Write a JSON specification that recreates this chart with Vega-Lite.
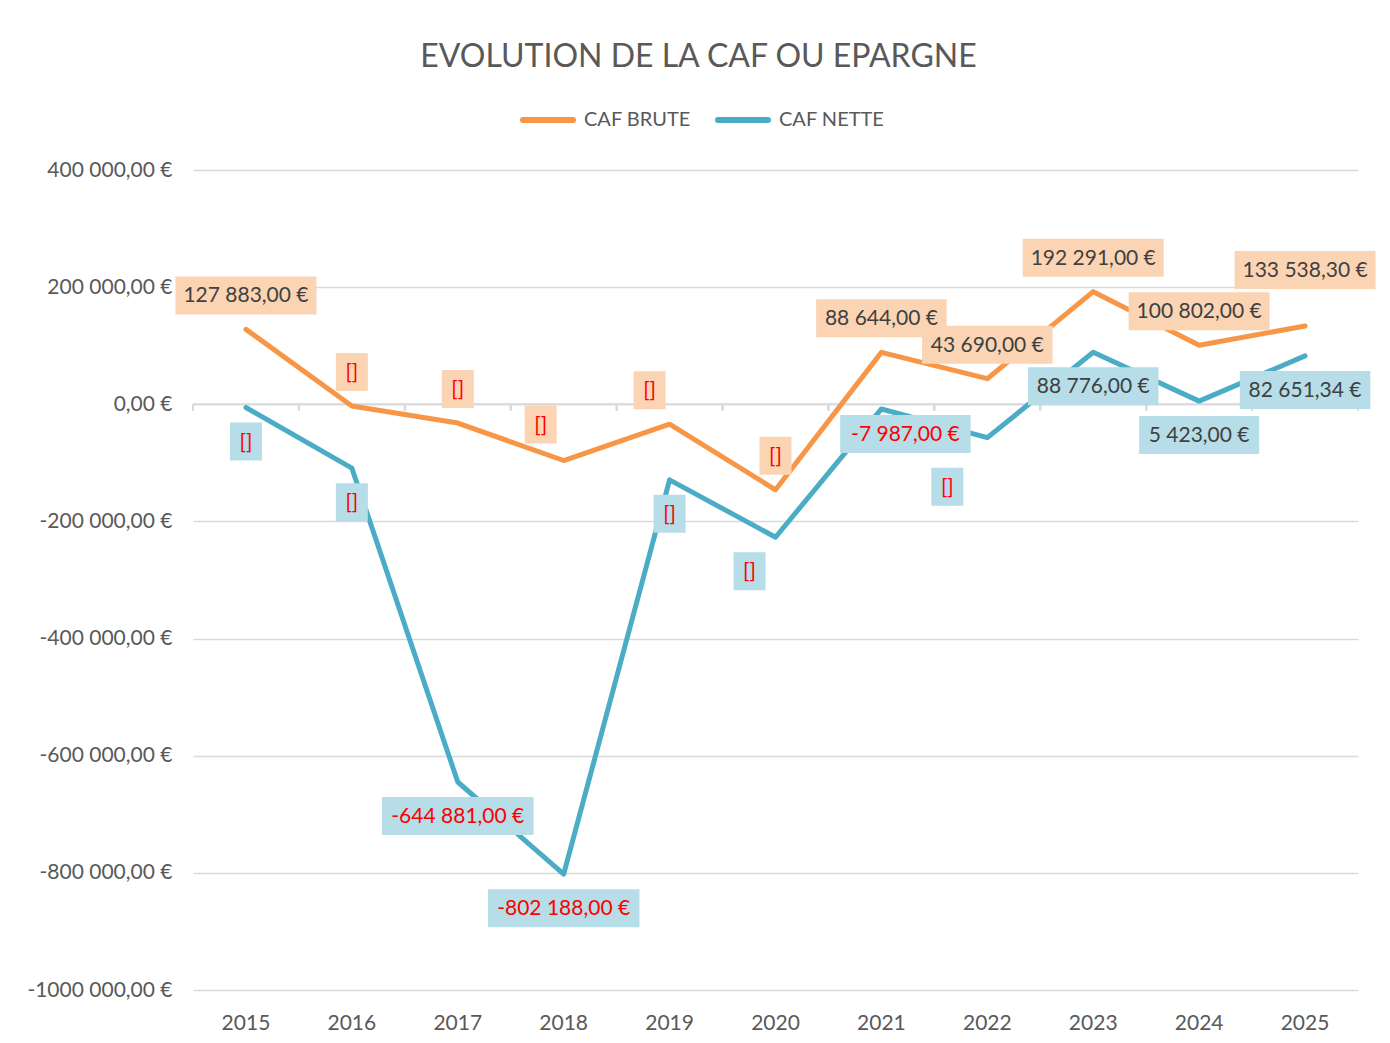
{
  "$schema": "https://vega.github.io/schema/vega-lite/v6.json",
  "width": 1165,
  "height": 820,
  "autosize": "none",
  "padding": {"left": 193, "top": 170, "right": 32, "bottom": 53},
  "background": "white",
  "config": {
    "font": "Lato",
    "view": {"stroke": null},
    "locale": {"number": {"decimal": ",", "thousands": " ", "grouping": [3], "currency": ["", " €"], "minus": "-"}}
  },
  "title": {
    "text": "EVOLUTION DE LA CAF OU EPARGNE",
    "anchor": "middle",
    "frame": "group",
    "dx": -77,
    "offset": 18,
    "fontSize": 32,
    "font": "Lato",
    "fontWeight": "normal",
    "color": "#595959"
  },
  "data": {
    "values": [
      {"year": "2015", "serie": "CAF BRUTE", "value": 127883, "label": "127 883,00 €"},
      {"year": "2016", "serie": "CAF BRUTE", "value": -3000, "label": "[]"},
      {"year": "2017", "serie": "CAF BRUTE", "value": -32000, "label": "[]"},
      {"year": "2018", "serie": "CAF BRUTE", "value": -96000, "label": "[]"},
      {"year": "2019", "serie": "CAF BRUTE", "value": -34000, "label": "[]"},
      {"year": "2020", "serie": "CAF BRUTE", "value": -146000, "label": "[]"},
      {"year": "2021", "serie": "CAF BRUTE", "value": 88644, "label": "88 644,00 €"},
      {"year": "2022", "serie": "CAF BRUTE", "value": 43690, "label": "43 690,00 €"},
      {"year": "2023", "serie": "CAF BRUTE", "value": 192291, "label": "192 291,00 €"},
      {"year": "2024", "serie": "CAF BRUTE", "value": 100802, "label": "100 802,00 €"},
      {"year": "2025", "serie": "CAF BRUTE", "value": 133538.3, "label": "133 538,30 €"},
      {"year": "2015", "serie": "CAF NETTE", "value": -5500, "label": "[]"},
      {"year": "2016", "serie": "CAF NETTE", "value": -109000, "label": "[]"},
      {"year": "2017", "serie": "CAF NETTE", "value": -644881, "label": "-644 881,00 €"},
      {"year": "2018", "serie": "CAF NETTE", "value": -802188, "label": "-802 188,00 €"},
      {"year": "2019", "serie": "CAF NETTE", "value": -129000, "label": "[]"},
      {"year": "2020", "serie": "CAF NETTE", "value": -227000, "label": "[]"},
      {"year": "2021", "serie": "CAF NETTE", "value": -7987, "label": "-7 987,00 €"},
      {"year": "2022", "serie": "CAF NETTE", "value": -57000, "label": "[]"},
      {"year": "2023", "serie": "CAF NETTE", "value": 88776, "label": "88 776,00 €"},
      {"year": "2024", "serie": "CAF NETTE", "value": 5423, "label": "5 423,00 €"},
      {"year": "2025", "serie": "CAF NETTE", "value": 82651.34, "label": "82 651,34 €"}
    ]
  },
  "layer": [
    {
      "mark": {"type": "rule", "color": "#D9D9D9", "strokeWidth": 2},
      "encoding": {
        "x": {"field": "year", "type": "ordinal", "bandPosition": 0,
          "scale": {"type": "band", "paddingInner": 0, "paddingOuter": 0},
          "axis": {"orient": "bottom", "title": null, "domain": false, "ticks": false, "labelAngle": 0, "labelPadding": 22, "labelFontSize": 21, "labelColor": "#595959", "labelFont": "Lato", "grid": false}},
        "y": {"datum": 0, "type": "quantitative",
          "scale": {"domain": [-1000000, 400000], "nice": false, "zero": false},
          "axis": {"title": null, "values": [-1000000, -800000, -600000, -400000, -200000, 0, 200000, 400000],
            "format": "$,.2f", "labelExpr": "datum.value == -1000000 ? '-1000 000,00 €' : datum.label",
            "grid": true, "gridColor": "#D9D9D9", "gridWidth": 1.5, "domain": false, "ticks": false, "tickSize": 0,
            "labelPadding": 21, "labelFontSize": 21, "labelColor": "#595959", "labelFont": "Lato"}},
        "y2": {"datum": -11000}
      }
    },
    {
      "transform": [{"filter": "datum.year == '2025' && datum.serie == 'CAF BRUTE'"}],
      "mark": {"type": "rule", "color": "#D9D9D9", "strokeWidth": 2},
      "encoding": {
        "x": {"field": "year", "type": "ordinal", "bandPosition": 1},
        "y": {"datum": 0, "type": "quantitative"},
        "y2": {"datum": -11000}
      }
    },
    {
      "data": {"values": [{}]},
      "mark": {"type": "rule", "color": "#D9D9D9", "strokeWidth": 2},
      "encoding": {"y": {"datum": 0, "type": "quantitative"}}
    },
    {
      "mark": {"type": "line", "strokeWidth": 5, "strokeCap": "round", "strokeJoin": "round"},
      "encoding": {
        "x": {"field": "year", "type": "ordinal", "bandPosition": 0.5},
        "y": {"field": "value", "type": "quantitative"},
        "color": {"field": "serie", "type": "nominal",
          "scale": {"domain": ["CAF BRUTE", "CAF NETTE"], "range": ["#F79646", "#4BACC6"]},
          "legend": {"orient": "none", "legendX": 327, "legendY": -78, "direction": "horizontal", "title": null,
            "symbolType": "stroke", "symbolSize": 2500, "symbolStrokeWidth": 6,
            "labelFontSize": 20, "labelColor": "#595959", "labelFont": "Lato", "labelOffset": 8, "columnPadding": 15,
            "encode": {"symbols": {"update": {"strokeCap": {"value": "round"}}}}}}
      }
    },
    {
      "mark": {"type": "rect",
        "width": {"expr": "datum.label == '[]' ? 32 : length(datum.label) * 10.5 + 15"},
        "xOffset": {"expr": "datum.serie == 'CAF BRUTE' ? (datum.year == '2018' ? -23 : datum.year == '2019' ? -20 : 0) : (datum.year == '2020' ? -26 : datum.year == '2021' ? 24 : datum.year == '2022' ? -40 : 0)"},
        "yOffset": {"expr": "(datum.serie == 'CAF BRUTE' ? (datum.year == '2025' ? -56 : datum.year == '2018' ? -36 : -34) : (datum.year == '2022' ? 49 : datum.year == '2021' ? 25 : 34)) - 19"},
        "y2Offset": {"expr": "(datum.serie == 'CAF BRUTE' ? (datum.year == '2025' ? -56 : datum.year == '2018' ? -36 : -34) : (datum.year == '2022' ? 49 : datum.year == '2021' ? 25 : 34)) + 19"}
      },
      "encoding": {
        "x": {"field": "year", "type": "ordinal", "bandPosition": 0.5},
        "y": {"field": "value", "type": "quantitative"},
        "y2": {"field": "value"},
        "color": {"condition": {"test": "datum.serie == 'CAF BRUTE'", "value": "#FBD4B4"}, "value": "#B6DDE8"}
      }
    },
    {
      "mark": {"type": "text", "fontSize": 21, "font": "Lato", "align": "center", "baseline": "middle",
        "dx": {"expr": "datum.serie == 'CAF BRUTE' ? (datum.year == '2018' ? -23 : datum.year == '2019' ? -20 : 0) : (datum.year == '2020' ? -26 : datum.year == '2021' ? 24 : datum.year == '2022' ? -40 : 0)"},
        "dy": {"expr": "(datum.serie == 'CAF BRUTE' ? (datum.year == '2025' ? -56 : datum.year == '2018' ? -36 : -34) : (datum.year == '2022' ? 49 : datum.year == '2021' ? 25 : 34)) + 1"}
      },
      "encoding": {
        "x": {"field": "year", "type": "ordinal", "bandPosition": 0.5},
        "y": {"field": "value", "type": "quantitative"},
        "text": {"field": "label"},
        "color": {"condition": {"test": "datum.value < 0", "value": "#FF0000"}, "value": "#404040"}
      }
    }
  ]
}
